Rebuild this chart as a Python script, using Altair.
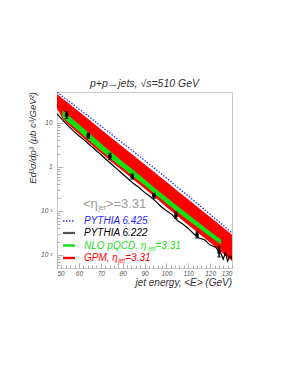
import altair as alt
import pandas as pd

FONT = "Liberation Sans"

# ---------------- data ----------------
E_red = [50, 52.5, 55, 60, 65, 70, 75, 80, 85, 90, 95, 100, 105, 110, 115, 120, 125, 130]
red_hi = [45.7, 36.3, 28.8, 18.2, 11.5, 7.24, 4.57, 2.88, 1.82, 1.15, 0.724, 0.457, 0.288, 0.182, 0.115, 0.0724, 0.0457, 0.0285]
red_lo = [21.5, 12.6, 9.33, 5.62, 3.39, 2.09, 1.29, 0.813, 0.513, 0.324, 0.200, 0.123, 0.0759, 0.0479, 0.0302, 0.0191, 0.0117, 0.00724]

E_green = [52.5, 55, 60, 65, 70, 75, 80, 85, 90, 95, 100, 105, 110, 115, 120, 125]
green_hi = [19.5, 15.1, 9.33, 5.70, 3.47, 2.14, 1.33, 0.841, 0.525, 0.324, 0.204, 0.129, 0.0822, 0.0531, 0.0340, 0.0222]
green_lo = [13.5, 10.5, 6.46, 3.89, 2.40, 1.48, 0.944, 0.596, 0.380, 0.234, 0.149, 0.0944, 0.0612, 0.0395, 0.0257, 0.0172]

E_blue = [50, 55, 60, 65, 70, 75, 80, 85, 90, 95, 100, 105, 110, 115, 120, 125, 130]
blue = [50.1, 32.4, 20.9, 13.5, 8.51, 5.50, 3.47, 2.24, 1.41, 0.891, 0.562, 0.347, 0.219, 0.135, 0.0832, 0.0513, 0.0316]

E_black = [50, 52.5, 55, 57.5, 60, 62.5, 65, 67.5, 70, 72.5, 75, 77.5, 80, 82.5, 85, 87.5, 90, 92.5,
           95, 97.5, 100, 102.5, 105, 107.5, 110, 112.5, 115, 117.5, 120, 122.5, 125, 126, 127, 128, 129, 130]
black = [16.2, 11.8, 8.71, 6.61, 5.13, 4.07, 3.16, 2.45, 1.91, 1.48, 1.15, 0.891, 0.692, 0.537, 0.417, 0.339, 0.263, 0.214,
         0.166, 0.126, 0.100, 0.0832, 0.0603, 0.0501, 0.0398, 0.0302, 0.0240, 0.0219, 0.0166, 0.0148, 0.0105, 0.00794, 0.0112, 0.00708, 0.00955, 0.00832]

E_pts = [54.4, 64.3, 74.2, 84.4, 94.3, 104.4, 114.0, 124.1]
pts = [15.1, 5.13, 1.74, 0.603, 0.219, 0.0794, 0.0282, 0.0117]
pts_lo = [12.6, 4.47, 1.48, 0.525, 0.191, 0.0676, 0.0240, 0.0089]
pts_hi = [18.2, 5.89, 2.04, 0.692, 0.251, 0.0933, 0.0331, 0.0155]

x_major = [50, 60, 70, 80, 90, 100, 110, 120, 130]
x_minor = [52, 54, 56, 58, 62, 64, 66, 68, 72, 74, 76, 78, 82, 84, 86, 88, 92, 94, 96, 98,
           102, 104, 106, 108, 112, 114, 116, 118, 122, 124, 126, 128]
y_major = [0.01, 0.1, 1, 10]
y_minor = [0.006, 0.007, 0.008, 0.009, 0.02, 0.03, 0.04, 0.05, 0.06, 0.07, 0.08, 0.09,
           0.2, 0.3, 0.4, 0.5, 0.6, 0.7, 0.8, 0.9, 2, 3, 4, 5, 6, 7, 8, 9, 20, 30, 40, 50]

legend_labels = ["PYTHIA 6.425", "PYTHIA 6.222", "NLO pQCD, η", "GPM, η"]
legend_colors = ["#2b2bff", "#000000", "#22dd22", "#ff0000"]

RED = "#ff0000"
GREEN = "#11e011"
BLUE = "#3030ff"

# ---------------- scales / axes ----------------
xs = alt.Scale(domain=[50, 130], nice=False, zero=False)
ys = alt.Scale(type="log", domain=[0.005, 50.7], nice=False)

ax_common = dict(grid=False, domain=False, title=None, tickColor="#b0b0b0")
x_axis_major = alt.Axis(values=x_major, tickSize=5, offset=-5, orient="bottom",
                        labelFont=FONT, labelFontSize=6.5, labelFontStyle="italic",
                        labelColor="#555", labelPadding=2, **ax_common)
x_axis_minor = alt.Axis(values=x_minor, tickSize=3, offset=-3, orient="bottom",
                        labels=False, **ax_common)
y_axis_major = alt.Axis(values=y_major, tickSize=6, offset=-6, orient="left",
                        labelFont=FONT, labelFontSize=6.5, labelFontStyle="italic",
                        labelColor="#555", labelPadding=5,
                        labelExpr="datum.value >= 5 ? '10' : datum.value >= 0.5 ? '1' : datum.value >= 0.05 ? '10⁻¹' : '10⁻²'",
                        **ax_common)
y_axis_minor = alt.Axis(values=y_minor, tickSize=3, offset=-3, orient="left",
                        labels=False, **ax_common)

df_red = pd.DataFrame({"E": E_red, "hi": red_hi, "lo": red_lo})
df_green = pd.DataFrame({"E": E_green, "hi": green_hi, "lo": green_lo})
df_blue = pd.DataFrame({"E": E_blue, "v": blue})
df_black = pd.DataFrame({"E": E_black, "v": black})
df_pts = pd.DataFrame({"E": E_pts, "v": pts, "lo": pts_lo, "hi": pts_hi})

red = alt.Chart(df_red).mark_area(color=RED, clip=True, opacity=1).encode(
    x=alt.X("E:Q", scale=xs, axis=x_axis_major),
    y=alt.Y("hi:Q", scale=ys, axis=y_axis_major),
    y2="lo:Q",
)
green = alt.Chart(df_green).mark_area(color=GREEN, clip=True, opacity=1).encode(
    x=alt.X("E:Q", scale=xs, axis=x_axis_minor),
    y=alt.Y("hi:Q", scale=ys, axis=y_axis_minor),
    y2="lo:Q",
)
blue_line = alt.Chart(df_blue).mark_line(color=BLUE, strokeWidth=1.3, strokeDash=[1.5, 1.5], clip=True).encode(
    x=alt.X("E:Q", scale=xs, axis=None),
    y=alt.Y("v:Q", scale=ys, axis=None),
)
black_line = alt.Chart(df_black).mark_line(color="#000000", strokeWidth=1.2, clip=True).encode(
    x=alt.X("E:Q", scale=xs, axis=None),
    y=alt.Y("v:Q", scale=ys, axis=None),
)
err = alt.Chart(df_pts).mark_rule(color="#000000", strokeWidth=1.6).encode(
    x=alt.X("E:Q", scale=xs, axis=None),
    y=alt.Y("lo:Q", scale=ys, axis=None),
    y2="hi:Q",
)
cap_lo = alt.Chart(df_pts).mark_tick(color="#000000", orient="horizontal", size=4, thickness=1).encode(
    x=alt.X("E:Q", scale=xs, axis=None),
    y=alt.Y("lo:Q", scale=ys, axis=None),
)
cap_hi = alt.Chart(df_pts).mark_tick(color="#000000", orient="horizontal", size=4, thickness=1).encode(
    x=alt.X("E:Q", scale=xs, axis=None),
    y=alt.Y("hi:Q", scale=ys, axis=None),
)
dots = alt.Chart(df_pts).mark_square(color="#000000", size=12, opacity=1).encode(
    x=alt.X("E:Q", scale=xs, axis=None),
    y=alt.Y("v:Q", scale=ys, axis=None),
)


def label(txt, x, y, size, color, style="italic", align="left", angle=0):
    return alt.Chart(pd.DataFrame({"t": [txt]})).mark_text(
        align=align, baseline="middle", fontSize=size, font=FONT,
        fontStyle=style, color=color, angle=angle,
    ).encode(x=alt.value(x), y=alt.value(y), text="t:N")


def sym(color, y, width, dash=None):
    kw = dict(color=color, strokeWidth=width)
    if dash:
        kw["strokeDash"] = dash
    return alt.Chart(pd.DataFrame({"t": [0]})).mark_rule(**kw).encode(
        x=alt.value(6), x2=alt.value(18), y=alt.value(y))


texts = [
    label("p+p→jets, √s=510 GeV", 87.5, -8, 10.5, "#333333", align="center"),
    label("Ed³σ/dp³ (μb c³/GeV²)", -24, 46, 9.5, "#333333", align="center", angle=270),
    label("jet energy, <E> (GeV)", 175, 191, 10, "#333333", align="right"),
    # <eta_jet> = 3.31
    label("<η", 26, 112, 13, "#9a9a9a", style="normal"),
    label("jet", 41.3, 115.5, 7, "#9a9a9a", style="normal"),
    label(">=3.31", 48.8, 112, 13, "#9a9a9a", style="normal"),
]

rows_y = [129, 141, 153.5, 166]
legend = [
    sym(legend_colors[0], rows_y[0], 1.4, [1.5, 1.5]),
    sym("#555555", rows_y[1], 2.2),
    sym(GREEN, rows_y[2], 2.4),
    sym(RED, rows_y[3], 2.4),
    label(legend_labels[0], 27, rows_y[0], 10, legend_colors[0]),
    label(legend_labels[1], 27, rows_y[1], 10, legend_colors[1]),
    label(legend_labels[2], 27, rows_y[2], 10, legend_colors[2]),
    label("jet", 91.5, rows_y[2] + 3, 6.5, legend_colors[2]),
    label("=3.31", 98.5, rows_y[2], 10, legend_colors[2]),
    label(legend_labels[3], 27, rows_y[3], 10, legend_colors[3]),
    label("jet", 61.2, rows_y[3] + 3, 6.5, legend_colors[3]),
    label("=3.31", 68.2, rows_y[3], 10, legend_colors[3]),
]

chart = alt.layer(
    red, green, blue_line, black_line, err, cap_lo, cap_hi, dots, *texts, *legend
).resolve_axis(x="independent", y="independent").properties(
    width=175, height=176,
    padding={"left": 49, "top": 84, "right": 57, "bottom": 109},
    autosize=alt.AutoSizeParams(type="none"),
).configure_view(stroke="#c8c8c8", strokeWidth=1)

chart.save("out.html", embed_options={"renderer": "svg", "actions": False})
